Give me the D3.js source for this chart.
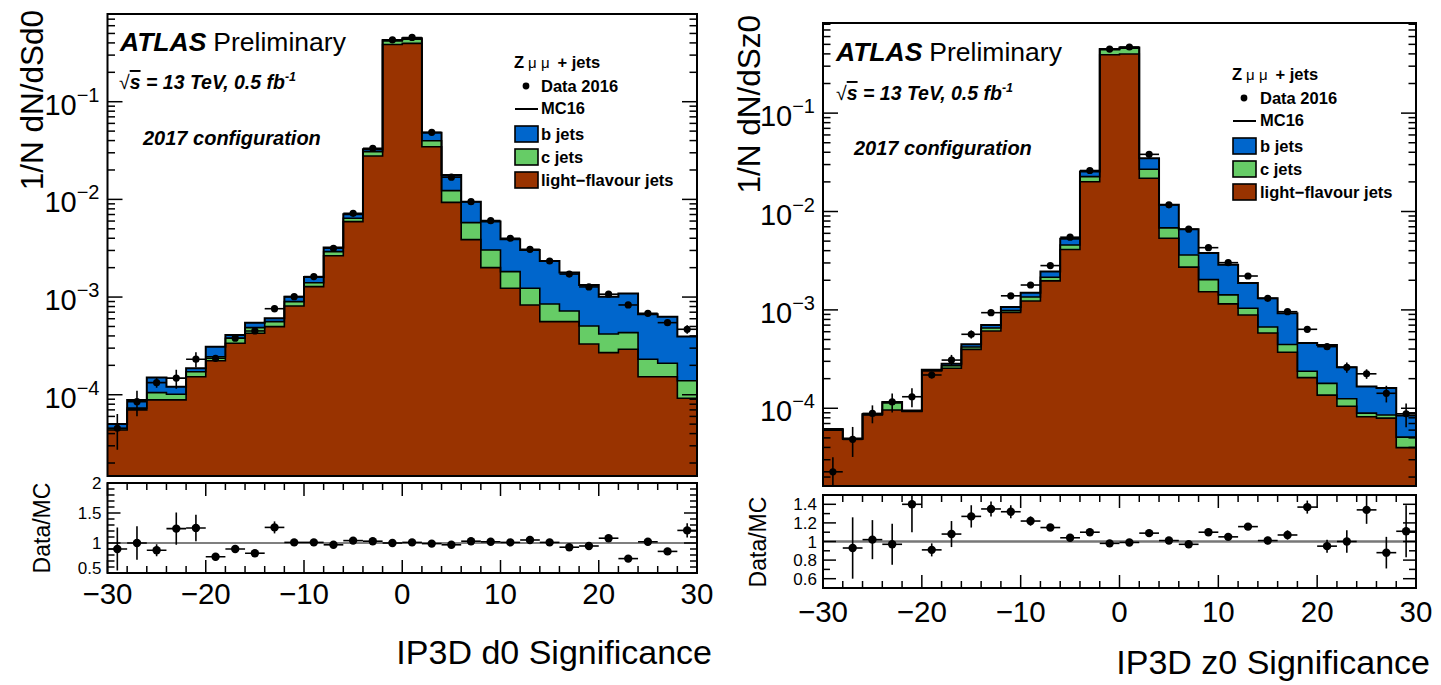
<!DOCTYPE html>
<html><head><meta charset="utf-8">
<script src="https://cdn.jsdelivr.net/npm/d3@7/dist/d3.min.js"></script>
<style>
body{margin:0;background:#fff}
svg{display:block}
text{font-family:"Liberation Sans",Arial,Helvetica,sans-serif;fill:#000}
</style></head>
<body><svg id="chart" width="1441" height="685"></svg>
<script>
// ---------------- DATA ----------------
const binLow = [-30,-28,-26,-24,-22,-20,-18,-16,-14,-12,-10,-8,-6,-4,-2,0,2,4,6,8,10,12,14,16,18,20,22,24,26,28];
const binWidth = 2;
const xTicksMajor = [-30,-20,-10,0,10,20,30];
const xTickLabels = ["\u221230","\u221220","\u221210","0","10","20","30"];
const yDecades = [-4,-3,-2,-1];

// d0 significance (left panel)
const d0Light = [4.36e-5,7.0e-5,8.85e-5,8.85e-5,1.53e-4,2.23e-4,3.37e-4,4.26e-4,4.98e-4,8.11e-4,1.28e-3,2.65e-3,5.92e-3,2.78e-2,0.385,0.396,3.46e-2,9.33e-3,3.87e-3,2.00e-3,1.23e-3,8.30e-4,5.60e-4,5.60e-4,3.31e-4,2.70e-4,2.92e-4,1.53e-4,1.53e-4,9.2e-5];
const d0C     = [1.4e-6,3.0e-6,1.65e-5,1.25e-5,1.9e-5,2.2e-5,4.2e-5,6.0e-5,6.2e-5,8.6e-5,1.2e-4,2.7e-4,4.9e-4,3.0e-3,0.035,0.040,5.3e-3,2.97e-3,1.91e-3,1.03e-3,5.9e-4,4.0e-4,2.9e-4,1.61e-4,1.75e-4,1.49e-4,1.40e-4,7.8e-5,5.7e-5,4.7e-5];
const d0B     = [5.2e-6,1.55e-5,4.5e-5,2.0e-5,1.5e-5,6.5e-5,3.0e-5,6.1e-5,4.7e-5,1.13e-4,2.0e-4,2.9e-4,6.3e-4,1.8e-3,0.009,0.010,8.3e-3,5.5e-3,3.69e-3,2.89e-3,2.09e-3,1.80e-3,1.49e-3,1.06e-3,8.24e-4,5.91e-4,6.58e-4,4.36e-4,4.20e-4,2.55e-4];
const d0Data  = [4.54e-5,8.5e-5,1.33e-4,1.48e-4,2.31e-4,2.36e-4,3.79e-4,4.50e-4,7.60e-4,1.01e-3,1.62e-3,3.16e-3,7.2e-3,3.33e-2,0.43,0.455,4.86e-2,1.69e-2,9.47e-3,6.06e-3,4.0e-3,3.08e-3,2.34e-3,1.72e-3,1.27e-3,1.07e-3,8.30e-4,6.82e-4,5.47e-4,4.68e-4];
const d0Ratio = [0.90,1.0,0.88,1.24,1.25,0.77,0.90,0.83,1.26,1.01,1.01,0.97,1.04,1.03,1.0,1.01,0.99,0.97,1.03,1.02,1.01,1.05,1.01,0.93,0.95,1.08,0.74,1.02,0.86,1.21];
const d0RatioErr = [0.36,0.28,0.10,0.27,0.22,0.06,0.05,0.04,0.10,0.02,0.02,0.02,0.02,0.01,0.01,0.01,0.01,0.02,0.02,0.02,0.02,0.03,0.02,0.03,0.03,0.04,0.04,0.06,0.05,0.12];

// z0 significance (right panel)
const z0Light = [6.0e-5,4.85e-5,8.55e-5,9.6e-5,9.3e-5,2.40e-4,2.55e-4,3.97e-4,6.10e-4,9.41e-4,1.23e-3,1.97e-3,4.11e-3,2.01e-2,0.392,0.399,2.18e-2,5.35e-3,2.72e-3,1.53e-3,1.15e-3,8.87e-4,5.82e-4,3.71e-4,2.05e-4,1.36e-4,1.05e-4,8.2e-5,7.95e-5,3.98e-5];
const z0C     = [4e-7,4e-7,1.0e-6,1.7e-5,1.0e-6,4e-6,1.6e-5,2.3e-5,4.4e-5,4.1e-5,1.2e-4,1.8e-4,4.6e-4,2.5e-3,0.048,0.059,5.1e-3,1.46e-3,8.9e-4,5.0e-4,2.7e-4,1.53e-4,8.8e-5,7.4e-5,3.3e-5,4.3e-5,2.0e-5,7.3e-6,5.8e-6,1.11e-5];
const z0B     = [1.0e-6,5e-7,8e-7,3e-6,8e-7,3e-6,1.3e-5,2.8e-5,4.8e-5,8.8e-5,1.4e-4,3.0e-4,7.1e-4,2.9e-3,0.008,0.006,7.9e-3,4.89e-3,3.0e-3,1.76e-3,1.46e-3,8.4e-4,6.4e-4,4.78e-4,2.23e-4,2.61e-4,1.36e-4,7.67e-5,7.57e-5,3.34e-5];
const z0Data  = [2.26e-5,4.83e-5,8.87e-5,1.16e-4,1.31e-4,2.18e-4,3.09e-4,5.65e-4,9.37e-4,1.39e-3,1.79e-3,2.82e-3,5.48e-3,2.61e-2,0.448,0.47,3.81e-2,1.17e-2,6.61e-3,4.29e-3,3.02e-3,2.21e-3,1.31e-3,9.59e-4,6.35e-4,4.23e-4,2.61e-4,2.24e-4,1.42e-4,8.79e-5];
const z0Ratio = [null,0.93,1.02,0.97,1.40,0.91,1.08,1.27,1.35,1.32,1.22,1.15,1.04,1.10,0.98,0.99,1.09,1.01,0.97,1.10,1.05,1.16,1.01,1.07,1.37,0.95,1.0,1.34,0.88,1.11];
const z0RatioErr = [0.15,0.33,0.21,0.22,0.30,0.07,0.14,0.12,0.08,0.07,0.05,0.03,0.02,0.02,0.01,0.01,0.02,0.02,0.02,0.03,0.03,0.03,0.04,0.05,0.07,0.07,0.12,0.15,0.17,0.28];

// ---------------- STYLE ----------------
const colB = "#0066cc", colC = "#66cc66", colL = "#993300";

const panels = [
  {id:"d0", light:d0Light, c:d0C, b:d0B, data:d0Data, ratio:d0Ratio, rerr:d0RatioErr,
   fx0:107.5, fx1:697, fy0:14, fy1:476, ry0:483, ry1:573,
   logTop:-0.102, logBot:-4.832, rDom:[0.5,2], rMajor:[0.5,1,1.5,2], rLabels:["0.5","1","1.5","2"], rMinorStep:0.1,
   unityColor:"#000", unityWidth:1.2,
   ytitle:"1/N dN/dSd0", ytitleX:32, ytitleEnd:10, rtitleX:42, rtitleC:528,
   xlabY:604, xtitle:"IP3D d0 Significance", xtitleX:712, xtitleY:664,
   atlas:[120,51], sqrt:[119,89], config:[143,145], leg:[515,541,68]},
  {id:"z0", light:z0Light, c:z0C, b:z0B, data:z0Data, ratio:z0Ratio, rerr:z0RatioErr,
   fx0:823, fx1:1416, fy0:23, fy1:486, ry0:495, ry1:588,
   logTop:-0.084, logBot:-4.79, rDom:[0.5,1.5], rMajor:[0.6,0.8,1,1.2,1.4], rLabels:["0.6","0.8","1","1.2","1.4"], rMinorStep:0.1,
   unityColor:"#777", unityWidth:2.5,
   ytitle:"1/N dN/dSz0", ytitleX:749, ytitleEnd:15, rtitleX:758, rtitleC:542,
   xlabY:622, xtitle:"IP3D z0 Significance", xtitleX:1430, xtitleY:674,
   atlas:[836,61], sqrt:[836,100], config:[854,155], leg:[1233,1260,80]}
];

const svg = d3.select("#chart");
const defs = svg.append("defs");

panels.forEach((p, pi) => {
  const x = d3.scaleLinear().domain([binLow[0], binLow[binLow.length-1]+binWidth]).range([p.fx0, p.fx1]);
  const y = d3.scaleLog().domain([Math.pow(10,p.logBot), Math.pow(10,p.logTop)]).range([p.fy1, p.fy0]);
  const yr = d3.scaleLinear().domain(p.rDom).range([p.ry1, p.ry0]);

  const clipId = "clip"+pi, rclipId = "rclip"+pi;
  defs.append("clipPath").attr("id",clipId).append("rect")
    .attr("x",p.fx0).attr("y",p.fy0).attr("width",p.fx1-p.fx0).attr("height",p.fy1-p.fy0);
  defs.append("clipPath").attr("id",rclipId).append("rect")
    .attr("x",p.fx0).attr("y",p.ry0).attr("width",p.fx1-p.fx0).attr("height",p.ry1-p.ry0);

  // stacked cumulative levels
  const lvlL = p.light.map(v=>v);
  const lvlC = p.light.map((v,i)=>v+p.c[i]);
  const lvlT = p.light.map((v,i)=>v+p.c[i]+p.b[i]);
  const mc = lvlT;

  const toPts = lvl => {
    const pts = binLow.map((lo,i)=>({x:lo, v:lvl[i]}));
    pts.push({x:binLow[binLow.length-1]+binWidth, v:lvl[lvl.length-1]});
    return pts;
  };
  const area = d3.area().curve(d3.curveStepAfter).x(d=>x(d.x)).y0(p.fy1+5).y1(d=>y(d.v));
  const line = d3.line().curve(d3.curveStepAfter).x(d=>x(d.x)).y(d=>y(d.v));

  const g = svg.append("g").attr("clip-path",`url(#${clipId})`);
  [[lvlT,colB],[lvlC,colC],[lvlL,colL]].forEach(([lvl,col])=>{
    g.append("path").attr("d",area(toPts(lvl))).attr("fill",col);
  });
  [lvlL,lvlC].forEach(lvl=>{
    g.append("path").attr("d",line(toPts(lvl))).attr("fill","none").attr("stroke","#000").attr("stroke-width",1.6);
  });
  g.append("path").attr("d",line(toPts(lvlT))).attr("fill","none").attr("stroke","#000").attr("stroke-width",2);

  // data points
  binLow.forEach((lo,i)=>{
    const cx = x(lo+binWidth/2), v = p.data[i];
    const err = p.rerr[i]*mc[i];
    const cy = y(v);
    g.append("line").attr("x1",x(lo)).attr("x2",x(lo+binWidth)).attr("y1",cy).attr("y2",cy).attr("stroke","#000").attr("stroke-width",1.6);
    g.append("line").attr("x1",cx).attr("x2",cx).attr("y1",y(v+err)).attr("y2",y(Math.max(v-err, v*0.05))).attr("stroke","#000").attr("stroke-width",1.6);
    g.append("circle").attr("cx",cx).attr("cy",cy).attr("r",3.6).attr("fill","#000");
  });

  // main frame
  svg.append("rect").attr("x",p.fx0).attr("y",p.fy0).attr("width",p.fx1-p.fx0).attr("height",p.fy1-p.fy0)
    .attr("fill","none").attr("stroke","#000").attr("stroke-width",2);

  // log ticks both sides
  const tk = svg.append("g");
  const yTickVals = [];
  for (let dcd = Math.floor(p.logBot); dcd <= Math.ceil(p.logTop); dcd++) {
    for (let m = 1; m <= 9; m++) {
      const v = m*Math.pow(10,dcd);
      const lv = Math.log10(v);
      if (lv >= p.logBot && lv <= p.logTop) yTickVals.push({v, major:m===1});
    }
  }
  yTickVals.forEach(t=>{
    const yy = y(t.v), len = t.major?15:7.5;
    tk.append("line").attr("x1",p.fx0).attr("x2",p.fx0+len).attr("y1",yy).attr("y2",yy).attr("stroke","#000").attr("stroke-width",1.5);
    tk.append("line").attr("x1",p.fx1).attr("x2",p.fx1-len).attr("y1",yy).attr("y2",yy).attr("stroke","#000").attr("stroke-width",1.5);
  });
  yDecades.forEach(dcd=>{
    const yy = y(Math.pow(10,dcd));
    const t = svg.append("text").attr("x",p.fx0-8).attr("y",yy+13).attr("text-anchor","end").attr("font-size",29);
    t.append("tspan").text("10");
    t.append("tspan").attr("dy",-13).attr("font-size",20).text("\u2212"+Math.abs(dcd));
  });

  // y title
  svg.append("text").attr("transform",`translate(${p.ytitleX},${p.ytitleEnd}) rotate(-90)`)
    .attr("text-anchor","end").attr("dy","0.35em").attr("font-size",31.5).text(p.ytitle);

  // -------- ratio panel --------
  const rg = svg.append("g").attr("clip-path",`url(#${rclipId})`);
  rg.append("line").attr("x1",p.fx0).attr("x2",p.fx1).attr("y1",yr(1)).attr("y2",yr(1))
    .attr("stroke",p.unityColor).attr("stroke-width",p.unityWidth);
  binLow.forEach((lo,i)=>{
    const r = p.ratio[i];
    if (r === null) return;
    const cx = x(lo+binWidth/2), cy = yr(r), e = p.rerr[i];
    rg.append("line").attr("x1",x(lo)).attr("x2",x(lo+binWidth)).attr("y1",cy).attr("y2",cy).attr("stroke","#000").attr("stroke-width",1.6);
    rg.append("line").attr("x1",cx).attr("x2",cx).attr("y1",yr(r+e)).attr("y2",yr(r-e)).attr("stroke","#000").attr("stroke-width",1.6);
    rg.append("circle").attr("cx",cx).attr("cy",cy).attr("r",4.2).attr("fill","#000");
  });
  svg.append("rect").attr("x",p.fx0).attr("y",p.ry0).attr("width",p.fx1-p.fx0).attr("height",p.ry1-p.ry0)
    .attr("fill","none").attr("stroke","#000").attr("stroke-width",2);

  // ratio x ticks (top & bottom)
  const rt = svg.append("g");
  for (let v = binLow[0]; v <= binLow[binLow.length-1]+binWidth; v += binWidth) {
    const major = xTicksMajor.includes(v), len = major?13:7, xx = x(v);
    rt.append("line").attr("x1",xx).attr("x2",xx).attr("y1",p.ry1).attr("y2",p.ry1-len).attr("stroke","#000").attr("stroke-width",1.5);
    rt.append("line").attr("x1",xx).attr("x2",xx).attr("y1",p.ry0).attr("y2",p.ry0+len).attr("stroke","#000").attr("stroke-width",1.5);
  }
  // ratio y ticks
  const nMin = Math.round((p.rDom[1]-p.rDom[0])/p.rMinorStep);
  for (let k = 0; k <= nMin; k++) {
    const v = p.rDom[0] + k*p.rMinorStep;
    const major = p.rMajor.some(m=>Math.abs(m-v)<1e-6), len = major?13:7, yy = yr(v);
    rt.append("line").attr("x1",p.fx0).attr("x2",p.fx0+len).attr("y1",yy).attr("y2",yy).attr("stroke","#000").attr("stroke-width",1.5);
    rt.append("line").attr("x1",p.fx1).attr("x2",p.fx1-len).attr("y1",yy).attr("y2",yy).attr("stroke","#000").attr("stroke-width",1.5);
  }
  p.rMajor.forEach((v,k)=>{
    // lowest label nudged up so it clears the x tick labels
    const nudge = (k===0 && p.rDom[0]===v) ? -5 : 0;
    svg.append("text").attr("x",p.fx0-6).attr("y",yr(v)+nudge).attr("dy","0.36em").attr("text-anchor","end")
      .attr("font-size",17).text(p.rLabels[k]);
  });
  svg.append("text").attr("transform",`translate(${p.rtitleX},${p.rtitleC}) rotate(-90)`)
    .attr("text-anchor","middle").attr("dy","0.35em").attr("font-size",23).text("Data/MC");

  // x tick labels
  xTicksMajor.forEach((v,k)=>{
    svg.append("text").attr("x",x(v)).attr("y",p.xlabY).attr("text-anchor","middle").attr("font-size",29.5).text(xTickLabels[k]);
  });
  svg.append("text").attr("x",p.xtitleX).attr("y",p.xtitleY).attr("text-anchor","end").attr("font-size",34).text(p.xtitle);

  // -------- annotations --------
  const at = svg.append("text").attr("x",p.atlas[0]).attr("y",p.atlas[1]).attr("font-size",26.5);
  at.append("tspan").attr("font-weight","bold").attr("font-style","italic").text("ATLAS");
  at.append("tspan").attr("dx",7).text("Preliminary");

  const sq = svg.append("text").attr("x",p.sqrt[0]).attr("y",p.sqrt[1]).attr("font-size",19.5)
    .attr("font-weight","bold").attr("font-style","italic");
  sq.append("tspan").attr("font-style","normal").attr("font-weight","normal").text("\u221A");
  sq.append("tspan").attr("text-decoration","overline").text("s");
  sq.append("tspan").text(" = 13 TeV, 0.5 fb");
  sq.append("tspan").attr("dy",-8).attr("font-size",12.5).text("-1");

  svg.append("text").attr("x",p.config[0]).attr("y",p.config[1]).attr("font-size",20)
    .attr("font-weight","bold").attr("font-style","italic").text("2017 configuration");

  // legend
  const [bx, tx, ly] = p.leg;
  const lg = svg.append("g").attr("font-size",16.5).attr("font-weight","bold");
  const zt = lg.append("text").attr("x",bx-1).attr("y",ly);
  zt.append("tspan").text("Z");
  zt.append("tspan").attr("dx",4).attr("font-weight","normal").attr("font-size",15).text("\u03BC \u03BC");
  zt.append("tspan").attr("dx",8).text("+ jets");
  lg.append("circle").attr("cx",bx+11).attr("cy",ly+18).attr("r",3.4).attr("fill","#000");
  lg.append("text").attr("x",tx).attr("y",ly+24).text("Data 2016");
  lg.append("line").attr("x1",bx).attr("x2",bx+23).attr("y1",ly+41).attr("y2",ly+41).attr("stroke","#000").attr("stroke-width",2);
  lg.append("text").attr("x",tx).attr("y",ly+46).text("MC16");
  [[colB,"b jets"],[colC,"c jets"],[colL,"light\u2212flavour jets"]].forEach(([col,lab],k)=>{
    const by = ly+58+k*23;
    lg.append("rect").attr("x",bx).attr("y",by).attr("width",23).attr("height",16)
      .attr("fill",col).attr("stroke","#000").attr("stroke-width",1.6);
    lg.append("text").attr("x",tx).attr("y",by+14).text(lab);
  });
});
</script></body></html>
